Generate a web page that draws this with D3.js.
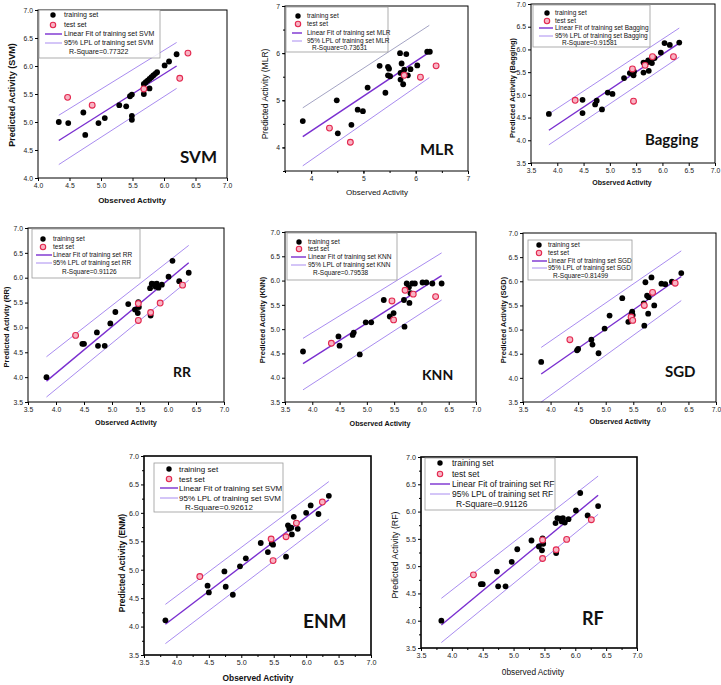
<!DOCTYPE html>
<html><head><meta charset="utf-8">
<script src="https://cdn.jsdelivr.net/npm/d3@7"></script>
<style>body{margin:0;background:#fff}svg{display:block}</style>
</head><body>
<script>
// ---------- DATA (observed, predicted) ----------
const svmTrain = [[4.33,5.00],[4.48,4.98],[4.72,5.17],[4.75,4.77],[4.96,4.98],[5.06,5.07],[5.29,5.30],[5.40,5.28],[5.46,5.46],[5.49,5.49],[5.49,5.11],[5.49,5.04],[5.68,5.50],[5.77,5.60],[5.68,5.68],[5.71,5.71],[5.74,5.74],[5.77,5.77],[5.80,5.80],[5.83,5.83],[5.86,5.86],[5.89,5.89],[6.01,6.01],[6.08,6.08],[6.20,6.21]];
const svmTest = [[4.47,5.44],[4.86,5.30],[5.68,5.59],[6.25,5.78],[6.38,6.23]];
const svmLines = [[[4.33,4.67],[6.20,6.00]],[[4.33,5.12],[6.20,6.42]],[[4.33,4.24],[6.20,5.60]]];

const mlrTrain = [[3.84,4.56],[4.49,5.00],[4.51,4.30],[4.77,4.48],[4.89,4.80],[4.99,4.77],[5.08,5.27],[5.31,5.73],[5.42,5.16],[5.47,5.71],[5.49,5.67],[5.47,5.53],[5.51,5.51],[5.70,6.00],[5.71,5.58],[5.71,5.44],[5.73,5.78],[5.76,5.34],[5.78,5.65],[5.82,5.98],[5.85,5.53],[5.90,5.66],[6.03,5.74],[6.22,6.03],[6.27,6.03]];
const mlrTest = [[4.35,4.41],[4.75,4.11],[5.78,5.53],[6.09,5.49],[6.39,5.73]];
const mlrLines = [[[3.84,4.23],[6.25,6.01]],[[3.84,4.84],[6.26,6.59]],[[3.84,3.61],[6.26,5.48]]];

const baggingTrain = [[3.84,4.58],[4.48,4.89],[4.48,4.60],[4.72,4.79],[4.75,4.87],[4.85,4.68],[4.96,5.05],[5.05,5.02],[5.27,5.37],[5.38,5.48],[5.45,5.43],[5.46,5.51],[5.64,5.49],[5.64,5.71],[5.70,5.71],[5.73,5.76],[5.77,5.73],[5.74,5.53],[5.80,5.70],[5.85,5.81],[5.97,5.93],[6.04,6.14],[6.14,6.10],[6.32,6.15]];
const baggingTest = [[4.34,4.88],[5.43,5.57],[5.45,4.86],[5.67,5.65],[5.81,5.84],[6.21,5.84]];
const baggingLines = [[[3.84,4.22],[6.32,6.14]],[[3.84,4.58],[6.32,6.47]],[[3.84,3.90],[6.32,5.83]]];

const rrTrain = [[3.83,4.00],[4.47,4.67],[4.50,4.67],[4.73,4.90],[4.75,4.63],[4.87,4.63],[4.97,5.08],[5.06,5.31],[5.29,5.47],[5.41,5.36],[5.46,5.29],[5.47,5.51],[5.48,5.41],[5.68,5.79],[5.69,5.24],[5.71,5.88],[5.75,5.87],[5.78,5.82],[5.80,5.88],[5.83,5.80],[5.89,5.86],[6.01,6.02],[6.08,6.34],[6.20,5.93],[6.37,6.10]];
const rrTest = [[4.35,4.84],[5.47,5.48],[5.47,5.14],[5.69,5.30],[5.86,5.49],[6.26,5.85]];
const rrLines = [[[3.83,3.92],[6.37,6.30]],[[3.83,4.41],[6.37,6.65]],[[3.83,3.60],[6.37,5.95]]];

const knnTrain = [[3.83,4.54],[4.48,4.85],[4.50,4.66],[4.74,4.88],[4.76,4.93],[4.87,4.48],[4.98,5.14],[5.08,5.14],[5.31,5.60],[5.42,5.26],[5.49,5.33],[5.68,5.60],[5.69,5.05],[5.73,5.94],[5.77,5.86],[5.78,5.54],[5.80,5.74],[5.83,5.94],[5.88,5.94],[6.02,5.96],[6.09,5.96],[6.20,5.94],[6.37,5.94]];
const knnTest = [[4.35,4.71],[5.46,5.58],[5.49,5.19],[5.70,5.80],[5.85,5.72],[6.26,5.67]];
const knnLines = [[[3.83,4.29],[6.37,6.10]],[[3.83,4.81],[6.37,6.57]],[[3.83,3.75],[6.37,5.60]]];

const sgdTrain = [[3.83,4.33],[4.48,4.57],[4.50,4.60],[4.74,4.79],[4.76,4.69],[4.87,4.51],[4.98,5.02],[5.07,5.29],[5.30,5.65],[5.41,5.16],[5.47,5.33],[5.48,5.37],[5.49,5.30],[5.69,5.54],[5.70,5.08],[5.72,5.98],[5.75,5.70],[5.78,5.67],[5.77,5.33],[5.83,6.08],[5.88,5.50],[6.01,5.95],[6.08,5.94],[6.20,5.99],[6.37,6.17]];
const sgdTest = [[4.35,4.79],[5.46,5.26],[5.49,5.19],[5.70,5.50],[5.85,5.77],[6.26,5.96]];
const sgdLines = [[[3.83,4.08],[6.37,6.10]],[[3.83,4.63],[6.37,6.63]],[[3.83,3.50],[6.37,5.60]]];

const enmTrain = [[3.83,4.11],[4.48,4.72],[4.50,4.60],[4.74,4.97],[4.76,4.70],[4.87,4.56],[4.98,5.06],[5.07,5.20],[5.30,5.47],[5.41,5.31],[5.47,5.46],[5.49,5.44],[5.69,5.23],[5.72,5.78],[5.74,5.72],[5.77,5.74],[5.78,5.62],[5.81,5.93],[5.87,5.72],[6.00,6.00],[6.07,6.13],[6.19,5.98],[6.35,6.30]];
const enmTest = [[4.36,4.88],[5.46,5.54],[5.49,5.16],[5.69,5.58],[5.85,5.82],[6.25,6.19]];
const enmLines = [[[3.83,4.04],[6.35,6.23]],[[3.83,4.39],[6.35,6.55]],[[3.83,3.70],[6.35,5.89]]];

const rfTrain = rrTrain;
const rfTest = rrTest;
const rfLines = rrLines;

const modelNames = ["SVM","MLR","Bagging","RR","KNN","SGD","ENM","RF"];
const legendModel = ["SVM","MLR","Bagging","RR","KNN","SGD","SVM","RF"];
const rSquares = ["0.77322","0.73631","0.91581","0.91126","0.79538","0.81499","0.92612","0.91126"];
const xTitles = ["Observed Activity","Observed Activity","Observed Activity","Observed Activity","Observed Activity","Observed Activity","Observed Activity","0bserved Activity"];
const halfTicks = [3.5,4.0,4.5,5.0,5.5,6.0,6.5,7.0];
const quarterTicks = [3.75,4.25,4.75,5.25,5.75,6.25,6.75];
const intTicks = [4,5,6,7];

// ---------- LAYOUT ----------
const W = 721, H = 685;
const svg = d3.select("body").append("svg").attr("width", W).attr("height", H);
const FONT = "'Liberation Sans', Arial, sans-serif";
const FIT = "#7a2fd0", LPL = "#a98cf0";

const panels = [
 {train:svmTrain,test:svmTest,lines:svmLines,l:38,r:227,t:10,b:178,xd:[4,7],yd:[4,7],ticks:halfTicks.slice(1),fmt:".1f",bold:true,
  xt:[132,203,8],yt:[12,95,9],lab:[180,163,17],leg:{box:[39,10,160,58],mk:53,ln:[45,62],tx:64,rows:[15,25,34,43,52],rx:69,fs:7},upperColor:LPL,fw:1},
 {train:mlrTrain,test:mlrTest,lines:mlrLines,l:285,r:468,t:6,b:171,xd:[3.5,7],yd:[3.5,7],ticks:intTicks,minor:halfTicks,fmt:"d",bold:false,
  xt:[377,195,8],yt:[265,94,8.5],lab:[420,155,16],leg:{box:[286,7,388,52],mk:298,ln:[292,302],tx:307,rows:[16,24,33,41,48],rx:312,fs:6.5},upperColor:"#a4a4c4",fw:1},
 {train:baggingTrain,test:baggingTest,lines:baggingLines,l:531,r:715,t:4,b:163,xd:[3.5,7],yd:[3.5,7],ticks:halfTicks,fmt:".1f",bold:true,
  xt:[622,185,7],yt:[512,88,7.5],lab:[645,145,15],leg:{box:[533,5,650,47],mk:547,ln:[539,553],tx:555,rows:[13,21,28,36,43],rx:562,fs:6.5},upperColor:LPL,fw:1},
 {train:rrTrain,test:rrTest,lines:rrLines,l:28,r:224,t:228,b:402,xd:[3.5,7],yd:[3.5,7],ticks:halfTicks,fmt:".1f",bold:true,
  xt:[126,425,7.3],yt:[6,327,7.5],lab:[173,377,14],leg:{box:[32,229,140,278],mk:43,ln:[36,52],tx:53,rows:[239,247,255,263,272],rx:62,fs:6.5},upperColor:LPL,fw:1},
 {train:knnTrain,test:knnTest,lines:knnLines,l:285,r:476,t:232,b:402,xd:[3.5,7],yd:[3.5,7],ticks:halfTicks,fmt:".1f",bold:true,
  xt:[380,426,7.2],yt:[262,320,7.5],lab:[422,380,14],leg:{box:[287,233,397,280],mk:299,ln:[291,306],tx:308,rows:[242,249,257,265,273],rx:313,fs:6.5},upperColor:LPL,fw:1},
 {train:sgdTrain,test:sgdTest,lines:sgdLines,l:523,r:716,t:233,b:402,xd:[3.5,7],yd:[3.5,7],ticks:halfTicks,fmt:".1f",bold:true,
  xt:[620,424,7.2],yt:[503,320,7.5],lab:[665,377,15],leg:{box:[528,240,632,280],mk:539,ln:[532,547],tx:548,rows:[245,253,261,268,276],rx:553,fs:6.5},upperColor:LPL,fw:1},
 {train:enmTrain,test:enmTest,lines:enmLines,l:144,r:371,t:456,b:655,xd:[3.5,7],yd:[3.5,7],ticks:halfTicks,minor:quarterTicks,fmt:".1f",bold:true,
  xt:[258,681,8.4],yt:[122,563,8.5],lab:[303,628,19],leg:{box:[154,463,283,512],mk:169,ln:[160,178],tx:179,rows:[469,479,488,498,507],rx:185,fs:8},upperColor:LPL,fw:1.6},
 {train:rfTrain,test:rfTest,lines:rfLines,l:421,r:637,t:457,b:648,xd:[3.5,7],yd:[3.5,7],ticks:halfTicks,minor:quarterTicks,fmt:".1f",bold:false,
  xt:[533,675,8.3],yt:[395,555,8.8],lab:[582,625,18],leg:{box:[425,458,555,510],mk:440,ln:[430,450],tx:452,rows:[463,474,484,494,504],rx:456,fs:8.5},upperColor:LPL,fw:1.6}
];

function testMarker(g, cx, cy, r){
  g.append("circle").attr("cx",cx).attr("cy",cy).attr("r",r)
   .attr("fill","#f8b4c4").attr("stroke","#e3284f").attr("stroke-width",1.1);
}

panels.forEach((p, i) => {
  const g = svg.append("g");
  const x = d3.scaleLinear().domain(p.xd).range([p.l, p.r]);
  const y = d3.scaleLinear().domain(p.yd).range([p.b, p.t]);
  const fmt = d3.format(p.fmt);

  const ax = d3.axisBottom(x).tickValues(p.ticks).tickFormat(fmt).tickSize(3).tickPadding(2);
  const ay = d3.axisLeft(y).tickValues(p.ticks).tickFormat(fmt).tickSize(3).tickPadding(2);
  const gx = g.append("g").attr("transform",`translate(0,${p.b})`).call(ax);
  const gy = g.append("g").attr("transform",`translate(${p.l},0)`).call(ay);
  [gx,gy].forEach(a=>{
    a.select(".domain").remove();
    a.selectAll("text").attr("font-family",FONT).attr("font-size",(i>=6)?7.2:6.8).attr("fill","#222");
    a.selectAll("line").attr("stroke","#000");
  });
  if (p.minor){
    const mx = d3.axisBottom(x).tickValues(p.minor).tickFormat("").tickSize(2);
    const my = d3.axisLeft(y).tickValues(p.minor).tickFormat("").tickSize(2);
    g.append("g").attr("transform",`translate(0,${p.b})`).call(mx).select(".domain").remove();
    g.append("g").attr("transform",`translate(${p.l},0)`).call(my).select(".domain").remove();
  }

  const line = d3.line().x(d=>x(d[0])).y(d=>y(d[1]));
  g.append("path").attr("d",line(p.lines[1])).attr("fill","none").attr("stroke",p.upperColor).attr("stroke-width",1);
  g.append("path").attr("d",line(p.lines[2])).attr("fill","none").attr("stroke",LPL).attr("stroke-width",1);
  g.append("path").attr("d",line(p.lines[0])).attr("fill","none").attr("stroke",FIT).attr("stroke-width",1.4);

  g.selectAll(".tr").data(p.train).join("circle").attr("class","tr")
    .attr("cx",d=>x(d[0])).attr("cy",d=>y(d[1])).attr("r",2.9).attr("fill","#000");
  p.test.forEach(d=>testMarker(g, x(d[0]), y(d[1]), 2.9));

  g.append("rect").attr("x",p.l).attr("y",p.t).attr("width",p.r-p.l).attr("height",p.b-p.t)
    .attr("fill","none").attr("stroke","#000").attr("stroke-width",p.fw);

  const L = p.leg;
  g.append("rect").attr("x",L.box[0]).attr("y",L.box[1]).attr("width",L.box[2]-L.box[0]).attr("height",L.box[3]-L.box[1])
    .attr("fill","#fff").attr("fill-opacity",0.85).attr("stroke","#999").attr("stroke-width",0.8);
  const tx = (yy, s, xx) => g.append("text").attr("x",xx||L.tx).attr("y",yy+L.fs*0.35).text(s)
    .attr("font-family",FONT).attr("font-size",L.fs).attr("fill","#111");
  g.append("circle").attr("cx",L.mk).attr("cy",L.rows[0]).attr("r",2.7).attr("fill","#000");
  tx(L.rows[0],"training set");
  testMarker(g, L.mk, L.rows[1], 2.7);
  tx(L.rows[1],"test set");
  g.append("line").attr("x1",L.ln[0]).attr("x2",L.ln[1]).attr("y1",L.rows[2]).attr("y2",L.rows[2]).attr("stroke",FIT).attr("stroke-width",1.4);
  tx(L.rows[2],"Linear Fit of training set "+legendModel[i]);
  g.append("line").attr("x1",L.ln[0]).attr("x2",L.ln[1]).attr("y1",L.rows[3]).attr("y2",L.rows[3]).attr("stroke",LPL).attr("stroke-width",1);
  tx(L.rows[3],"95% LPL of training set "+legendModel[i]);
  tx(L.rows[4],"R-Square="+rSquares[i], L.rx);

  g.append("text").attr("x",p.xt[0]).attr("y",p.xt[1]).attr("text-anchor","middle")
    .attr("font-family",FONT).attr("font-size",p.xt[2]).attr("font-weight",p.bold?"bold":"normal").attr("fill","#111")
    .text(xTitles[i]);
  g.append("text").attr("transform",`translate(${p.yt[0]+p.yt[2]*0.35},${p.yt[1]}) rotate(-90)`).attr("text-anchor","middle")
    .attr("font-family",FONT).attr("font-size",p.yt[2]).attr("font-weight",(p.bold)?"bold":"normal").attr("fill","#111")
    .text("Predicted Activity ("+modelNames[i]+")");
  g.append("text").attr("x",p.lab[0]).attr("y",p.lab[1]).attr("font-family","Lato, 'Open Sans', sans-serif")
    .attr("font-weight","bold").attr("font-size",p.lab[2]).attr("fill","#111").text(modelNames[i]);
});
</script>
</body></html>
